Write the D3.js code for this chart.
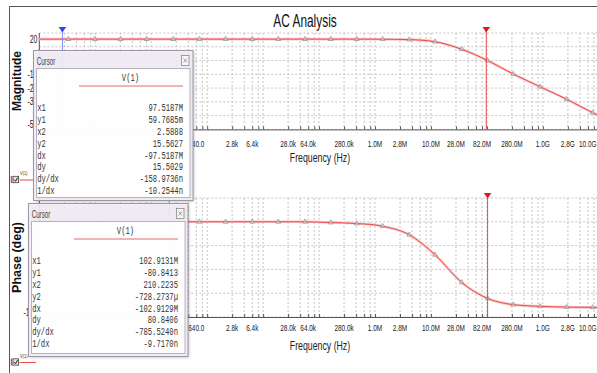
<!DOCTYPE html>
<html>
<head>
<meta charset="utf-8">
<script src="https://cdn.jsdelivr.net/npm/d3@7"></script>
<style>
body { margin: 0; background: #fff; }
svg { display: block; }
</style>
</head>
<body>
<div id="chart"></div>
<script>
var w = 597;
var h = 373;

// sample points of V(1) (Hz, dB, deg)
var freqs = [1, 3.3, 9.9, 28.4, 83, 248, 725, 2140, 6410, 18700, 56200, 162000, 471000,
             1.37e6, 4.1e6, 1.18e7, 3.54e7, 1.03e8, 2.96e8, 8.91e8, 2.67e9, 7.78e9, 1e10];
var magDb = [15.56, 15.56, 15.56, 15.56, 15.56, 15.56, 15.56, 15.56, 15.56, 15.56, 15.56, 15.56, 15.56,
             15.5, 15.2, 13.7, 8.2, 0.0, -9.8, -19.0, -28.1, -37.9, -40.0];
var phaseDeg = [0, 0, 0, 0, 0, 0, 0, 0, 0, 0, 0, -0.8, -1.8,
                -4.6, -13.6, -34.6, -63.7, -80.5, -87.0, -88.8, -89.6, -89.9, -89.9];
var markerIdx = d3.range(1, 22);

var gridMant = [1, 2.8, 4.6, 6.4, 8.2];
var xTickVals = [640, 2800, 6400, 28000, 64000, 280000, 1e6, 2.8e6,
                 1e7, 2.8e7, 8.2e7, 2.8e8, 1e9, 2.8e9, 1e10];
var xTickText = ["640.0", "2.8k", "6.4k", "28.0k", "64.0k", "280.0k", "1.0M", "2.8M",
                 "10.0M", "28.0M", "82.0M", "280.0M", "1.0G", "2.8G", "10.0G"];
var magTicks = [20, 10, 0, -10, -20, -30, -40, -50];
var magLabels = [20, -10, -20, -30, -50];   // the others sit under the cursor window
var phaseTicks = [25, 0, -25, -50, -75, -100];
var phaseLabels = [-100];

var cursorMag = [2.5888, 97.5187e6];     // blue x2, red x1
var cursorPhase = [210.2235, 102.9131e6];
var rowNames = ["x1", "y1", "x2", "y2", "dx", "dy", "dy/dx", "1/dx"];
var magRows = ["97.5187M", "59.7685m", "2.5888", "15.5627", "-97.5187M", "15.5029", "-158.9736n", "-10.2544n"];
var phaseRows = ["102.9131M", "-80.8413", "210.2235", "-728.2737\u00b5", "-102.9129M", "80.8406", "-785.5240n", "-9.7170n"];

var sans = "'Liberation Sans', Arial, sans-serif";
var mono = "'Liberation Mono', 'DejaVu Sans Mono', monospace";
var red = "#ee4848";

var gridF = [];
for (var d = 0; d < 10; d++) {
  gridMant.forEach(function(m) { gridF.push(m * Math.pow(10, d)); });
}
gridF.push(1e10);

var x = d3.scaleLog().domain([1, 1e10]).range([39.3, 598.8]);
var yMag = d3.scaleLinear().domain([20, -50]).range([33, 129.4]);
var yPh = d3.scaleLinear().domain([25, -100]).range([198, 317]);

var svg = d3.select("#chart")
            .append("svg")
            .attr("width", w)
            .attr("height", h);

svg.append("rect").attr("width", w).attr("height", h).attr("fill", "#fff");

var defs = svg.append("defs");
var f = defs.append("filter").attr("id", "shadow").attr("x", "-10%").attr("y", "-10%")
            .attr("width", "130%").attr("height", "130%");
f.append("feGaussianBlur").attr("stdDeviation", 1.6);

function addText(parent, tx, ty, str, o) {
  var t = parent.append("text")
    .attr("transform", "translate(" + tx + "," + ty + ") scale(" + (o.sx || 1) + ",1)")
    .attr("text-anchor", o.anchor || "start")
    .attr("font-family", o.family || sans)
    .attr("font-size", o.size || 10)
    .attr("fill", o.fill || "#222")
    .text(str);
  if (o.weight) t.attr("font-weight", o.weight);
  return t;
}

// outer frame
svg.append("path").attr("d", "M9.5,373 V6.5 H597").attr("fill", "none").attr("stroke", "#555");

addText(svg, 305, 26.5, "AC Analysis", {size: 17.5, anchor: "middle", sx: 0.68, fill: "#111"});

function panel(y, ticks, labels, top, bottom, vals, labelBase) {
  var g = svg.append("g");
  // grid
  g.selectAll("line.v").data(gridF).enter().append("line")
    .attr("x1", function(d) { return x(d); }).attr("x2", function(d) { return x(d); })
    .attr("y1", top).attr("y2", bottom)
    .attr("stroke", "#c4c4c4").attr("stroke-dasharray", "2,2");
  g.selectAll("line.h").data(ticks).enter().append("line")
    .attr("x1", x.range()[0]).attr("x2", w)
    .attr("y1", function(d) { return y(d); }).attr("y2", function(d) { return y(d); })
    .attr("stroke", "#c4c4c4").attr("stroke-dasharray", "2,2");

  // axes
  g.append("g").attr("transform", "translate(0," + bottom + ")")
    .call(d3.axisBottom(x).tickValues(gridF).tickSize(-3).tickFormat(""))
    .call(function(a) {
      a.select(".domain").attr("stroke", "#555");
      a.selectAll(".tick line").attr("stroke", "#555");
    });
  g.append("line").attr("x1", x.range()[0]).attr("x2", x.range()[0])
    .attr("y1", top).attr("y2", bottom).attr("stroke", "#555");

  // y tick labels (edge labels pulled inside the plot)
  labels.forEach(function(v) {
    var yy = y(v) + 3.5;
    if (v === ticks[0]) yy += 6;
    if (v === ticks[ticks.length - 1]) yy -= 5;
    addText(g, 37.5, yy, String(v), {size: 10, anchor: "end", sx: 0.7});
  });

  // x tick labels
  xTickVals.forEach(function(v, i) {
    var last = i === xTickVals.length - 1;
    addText(g, last ? 596.5 : x(v), labelBase, xTickText[i],
            {size: 9.5, anchor: last ? "end" : "middle", sx: 0.68});
  });

  // curve
  var line = d3.line()
    .x(function(d, i) { return x(freqs[i]); })
    .y(function(d) { return y(d); })
    .curve(d3.curveMonotoneX);
  g.append("path").attr("d", line(vals)).attr("fill", "none")
    .attr("stroke", "#f8c6c6").attr("stroke-width", 2.6);
  g.append("path").attr("d", line(vals)).attr("fill", "none")
    .attr("stroke", red).attr("stroke-width", 1);

  var tri = d3.symbol().type(d3.symbolTriangle).size(10);
  g.selectAll("path.mk").data(markerIdx).enter().append("path")
    .attr("transform", function(i) { return "translate(" + x(freqs[i]) + "," + y(vals[i]) + ")"; })
    .attr("d", tri)
    .attr("fill", "#ddd").attr("fill-opacity", 0.5)
    .attr("stroke", "#8c8c8c").attr("stroke-width", 0.7);
  return g;
}

var gMag = panel(yMag, magTicks, magLabels, 33, 129.4, magDb, 146.5);
var gPh = panel(yPh, phaseTicks, phaseLabels, 198, 317, phaseDeg, 330.5);

addText(svg, 320, 162, "Frequency (Hz)", {size: 12, anchor: "middle", sx: 0.73});
addText(svg, 320, 350, "Frequency (Hz)", {size: 12, anchor: "middle", sx: 0.73});

svg.append("text").attr("transform", "translate(21,81) rotate(-90)")
   .attr("text-anchor", "middle").attr("font-family", sans).attr("font-size", 12)
   .attr("font-weight", "bold").attr("fill", "#111").text("Magnitude");
svg.append("text").attr("transform", "translate(20.5,257.5) rotate(-90)")
   .attr("text-anchor", "middle").attr("font-family", sans).attr("font-size", 12.5)
   .attr("font-weight", "bold").attr("fill", "#111").text("Phase (deg)");

// cursors
function cursors(vals, top, bottom) {
  var cols = [["#3246e6", "#7f8cf0"], ["#e01818", "#e84848"]];
  vals.forEach(function(v, i) {
    var cx = x(v);
    svg.append("line").attr("x1", cx).attr("x2", cx).attr("y1", top + 4).attr("y2", bottom)
      .attr("stroke", cols[i][1]).attr("stroke-width", 1);
    svg.append("path")
      .attr("d", "M" + (cx - 3.8) + "," + top + " H" + (cx + 3.8) + " L" + cx + "," + (top + 5.5) + " Z")
      .attr("fill", cols[i][0]);
  });
}
cursors(cursorMag, 27, 129.4);
cursors(cursorPhase, 193, 317);

// legends
function legend(ly, lx2) {
  svg.append("line").attr("x1", 11.5).attr("x2", 11.5).attr("y1", ly - 3.5).attr("y2", ly + 3.5)
    .attr("stroke", red).attr("stroke-width", 1.5);
  svg.append("rect").attr("x", 13).attr("y", ly - 3.2).attr("width", 5.6).attr("height", 6.4)
    .attr("fill", "#e8e8e8").attr("stroke", "#444").attr("stroke-width", 0.8);
  svg.append("path").attr("d", "M14.2," + (ly) + " L15.6," + (ly + 1.8) + " L17.6," + (ly - 2))
    .attr("fill", "none").attr("stroke", "#111").attr("stroke-width", 0.9);
  svg.append("line").attr("x1", 19.5).attr("x2", lx2).attr("y1", ly + 0.5).attr("y2", ly + 0.5)
    .attr("stroke", red).attr("stroke-width", 1);
  addText(svg, 20, ly - 4.5, "V(1)", {size: 5, sx: 0.8, fill: "#333"});
}
legend(179.5, 33.3);
legend(362, 36);

// cursor readout windows
function cursorBox(bx, by, bw, bh, vals) {
  var g = svg.append("g");
  g.append("rect").attr("x", bx + 1.5).attr("y", by + 1.5).attr("width", bw).attr("height", bh)
    .attr("fill", "#000").attr("opacity", 0.25).attr("filter", "url(#shadow)");
  g.append("rect").attr("x", bx + 0.5).attr("y", by + 0.5).attr("width", bw).attr("height", bh)
    .attr("fill", "#f4eef6").attr("fill-opacity", 0.92).attr("stroke", "#9d96a6");
  addText(g, bx + 3.7, by + 14.5, "Cursor", {size: 10, sx: 0.62, fill: "#444"});
  g.append("rect").attr("x", bx + 148.5).attr("y", by + 5.5).attr("width", 7.5).attr("height", 10)
    .attr("fill", "#f6f6f6").attr("stroke", "#8a8a8a").attr("stroke-width", 0.8);
  g.append("path")
    .attr("d", "M" + (bx + 150.5) + "," + (by + 8.5) + " l3.5,4 M" + (bx + 154) + "," + (by + 8.5) + " l-3.5,4")
    .attr("stroke", "#777").attr("stroke-width", 0.7);
  g.append("rect").attr("x", bx + 3.5).attr("y", by + 18.5).attr("width", bw - 6).attr("height", bh - 21)
    .attr("fill", "#fff").attr("fill-opacity", 0.93).attr("stroke", "#b9b3c1");
  addText(g, bx + 97.5, by + 31, "V(1)", {size: 10, anchor: "middle", sx: 0.72, family: mono, fill: "#333"});
  g.append("line").attr("x1", bx + 46).attr("x2", bx + 150).attr("y1", by + 36).attr("y2", by + 36)
    .attr("stroke", "#f09a9a").attr("stroke-width", 1.6);
  rowNames.forEach(function(n, i) {
    var yy = by + 60.7 + 11.95 * i;
    addText(g, bx + 4.2, yy, n, {size: 10, sx: 0.72, family: mono, fill: "#333"});
    addText(g, bx + 150, yy, vals[i], {size: 10, anchor: "end", sx: 0.72, family: mono, fill: "#333"});
  });
}
cursorBox(33, 50, 159.5, 150, magRows);
cursorBox(28, 203, 159.5, 153, phaseRows);
</script>
</body>
</html>
